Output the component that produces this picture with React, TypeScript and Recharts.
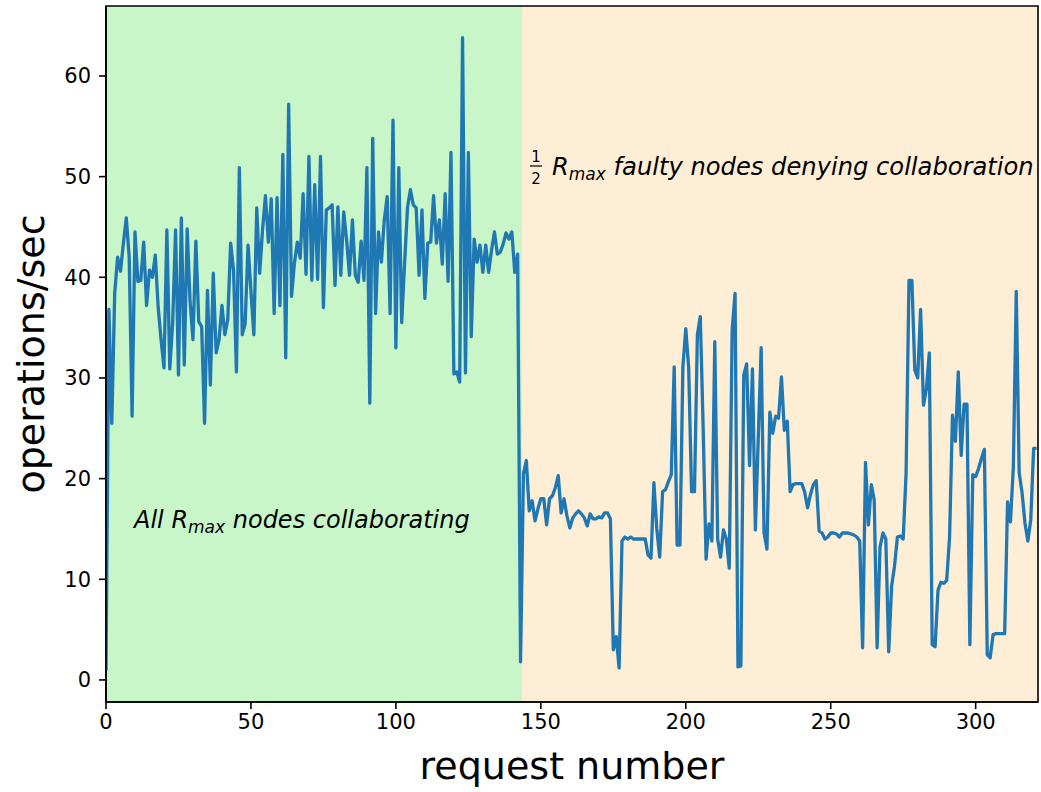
import { LineChart, Line, XAxis, YAxis, ReferenceArea } from "recharts";

// operations/sec per request (request 0..321)
const opsPerSec = [
  0.95, 36.8, 25.5, 38.4, 42.0, 40.6, 43.4, 45.9, 42.0, 26.2,
  44.5, 39.6, 39.7, 43.5, 37.2, 40.7, 40.0, 42.2, 37.0, 33.8,
  31.0, 44.7, 30.9, 35.5, 44.7, 30.3, 45.9, 31.3, 44.8, 37.6,
  33.8, 43.6, 35.6, 35.1, 25.5, 38.7, 29.3, 40.4, 32.5, 33.8,
  37.2, 34.3, 35.8, 43.4, 40.7, 30.6, 50.9, 34.3, 35.4, 43.2,
  38.6, 34.3, 46.9, 40.4, 44.7, 48.1, 43.5, 47.8, 36.4, 47.9,
  37.2, 52.2, 32.0, 57.2, 38.1, 41.4, 43.5, 41.9, 48.3, 40.3,
  52.0, 39.7, 49.2, 39.8, 52.0, 37.0, 46.7, 46.9, 47.2, 39.2,
  47.0, 40.2, 46.5, 43.7, 40.2, 45.7, 40.2, 39.5, 43.6, 39.7,
  50.9, 27.5, 53.8, 36.4, 44.5, 41.5, 45.7, 48.0, 36.4, 55.6,
  33.0, 50.9, 35.5, 41.4, 46.9, 48.7, 47.2, 46.9, 40.2, 46.7,
  37.9, 43.4, 43.5, 48.1, 43.4, 45.7, 41.3, 48.3, 39.6, 52.4,
  30.4, 30.6, 29.6, 63.8, 30.5, 52.4, 34.1, 43.8, 41.5, 43.2,
  40.5, 43.2, 40.5, 42.7, 44.5, 42.3, 42.5, 43.3, 44.4, 43.8,
  44.5, 40.5, 42.3, 1.8, 20.5, 21.8, 16.8, 17.8, 15.8, 17.0,
  18.0, 18.0, 15.4, 18.0, 18.3, 19.1, 20.3, 16.6, 18.0, 16.3,
  15.1, 16.1, 16.5, 16.8, 16.5, 16.1, 15.3, 16.5, 16.0, 16.0,
  16.2, 16.1, 16.6, 16.6, 16.0, 3.0, 4.3, 1.2, 13.8, 14.2,
  14.0, 14.2, 14.0, 14.0, 14.0, 14.0, 14.0, 12.4, 12.1, 19.6,
  15.0, 12.2, 18.7, 18.9, 19.7, 20.4, 31.1, 13.4, 13.4, 31.1,
  34.9, 31.0, 18.7, 18.7, 34.3, 36.1, 25.0, 12.0, 15.5, 13.8,
  33.6, 14.0, 12.2, 14.9, 14.0, 11.1, 34.8, 38.4, 1.3, 1.4,
  30.3, 31.4, 21.3, 30.9, 14.9, 24.0, 33.0, 14.6, 13.0, 26.6,
  24.5, 26.2, 26.0, 30.1, 24.8, 25.7, 18.7, 19.4, 19.5, 19.5,
  19.5, 18.7, 17.1, 18.4, 19.4, 19.8, 14.8, 14.6, 14.0, 14.2,
  14.6, 14.6, 14.5, 14.2, 14.6, 14.6, 14.6, 14.5, 14.4, 14.2,
  13.8, 3.2, 21.6, 15.4, 19.4, 17.9, 3.2, 13.2, 14.6, 14.0,
  2.8, 9.3, 11.3, 14.2, 14.3, 14.0, 20.6, 39.7, 39.7, 30.8,
  30.0, 36.8, 27.3, 28.9, 32.5, 3.5, 3.3, 8.9, 9.7, 9.6,
  9.9, 14.2, 26.3, 23.7, 30.6, 22.3, 27.4, 27.4, 3.5, 20.4,
  20.2, 21.0, 22.0, 22.9, 2.5, 2.2, 4.5, 4.6, 4.6, 4.6,
  4.6, 17.7, 15.7, 21.2, 38.6, 20.6, 18.6, 15.6, 13.8, 15.9,
  23.0, 23.0,
];

const xTicks = [0, 50, 100, 150, 200, 250, 300];
const yTicks = [0, 10, 20, 30, 40, 50, 60];
const xDomain = [0, 321.5];
const yDomain = [-2.19, 66.95];
const faultStart = 143.5;

const data = opsPerSec.map((ops, request) => ({ request, ops }));

const font = "DejaVu Sans";
const tickStyle = { fontSize: 21, fill: "#000", fontFamily: font };

export default function App() {
  return (
    <div style={{ position: "absolute", left: 0, top: 0, width: 1041, height: 792, background: "#fff" }}>
      <LineChart width={1041} height={792} data={data} margin={{ top: 6, right: 3, left: 0, bottom: 0 }}>
        <XAxis
          dataKey="request"
          type="number"
          domain={xDomain}
          ticks={xTicks}
          allowDataOverflow
          height={90}
          tickSize={7}
          tickMargin={5}
          tick={tickStyle}
          axisLine={{ stroke: "#000", strokeWidth: 1.6 }}
          tickLine={{ stroke: "#000", strokeWidth: 1.6 }}
        />
        <YAxis
          type="number"
          domain={yDomain}
          ticks={yTicks}
          allowDataOverflow
          width={106}
          tickSize={7}
          tickMargin={8}
          tick={tickStyle}
          axisLine={{ stroke: "#000", strokeWidth: 1.6 }}
          tickLine={{ stroke: "#000", strokeWidth: 1.6 }}
        />
        <ReferenceArea x1={0} x2={faultStart} fill="#c8f6c8" fillOpacity={1} stroke="none" />
        <ReferenceArea x1={faultStart} x2={xDomain[1]} fill="#ffeed6" fillOpacity={1} stroke="none" />
        <Line
          type="linear"
          dataKey="ops"
          stroke="#1f77b4"
          strokeWidth={3.3}
          dot={false}
          activeDot={false}
          strokeLinejoin="round"
          isAnimationActive={false}
        />
        <ReferenceArea
          x1={xDomain[0]}
          x2={xDomain[1]}
          y1={yDomain[0]}
          y2={yDomain[1]}
          fill="none"
          stroke="#000"
          strokeWidth={1.6}
        />
      </LineChart>

      <svg
        width={1041}
        height={792}
        style={{ position: "absolute", left: 0, top: 0, pointerEvents: "none" }}
        fontFamily={font}
      >
        <text x={44} y={354} fontSize={38} textAnchor="middle" transform="rotate(-90 44 354)">
          operations/sec
        </text>
        <text x={572} y={779} fontSize={38} textAnchor="middle">
          request number
        </text>

        <text x={134} y={528} fontSize={24} fontStyle="italic">
          All R<tspan dy={5} fontSize={17}>max</tspan>
          <tspan dy={-5}> nodes collaborating</tspan>
        </text>

        <text x={536} y={162} fontSize={15} textAnchor="middle">1</text>
        <line x1={530} x2={542} y1={166} y2={166} stroke="#000" strokeWidth={1.2} />
        <text x={536} y={184} fontSize={15} textAnchor="middle">2</text>
        <text x={552} y={175} fontSize={24.2} fontStyle="italic">
          R<tspan dy={5} fontSize={17}>max</tspan>
          <tspan dy={-5}> faulty nodes denying collaboration</tspan>
        </text>
      </svg>
    </div>
  );
}
